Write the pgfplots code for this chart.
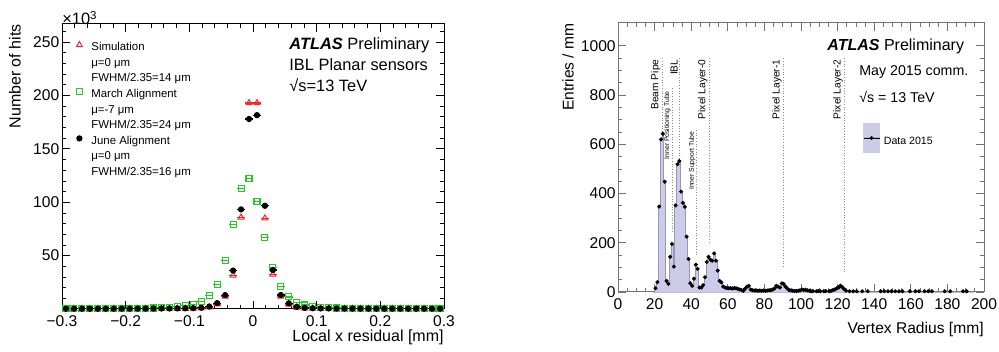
\documentclass[border=0pt]{standalone}
\usepackage{fontspec}
\setmainfont{Liberation Sans}
\usepackage{pgfplots}
\pgfplotsset{compat=1.18}
\usepackage{pgfplotstable}
\definecolor{simred}{RGB}{250,40,40}
\definecolor{margreen}{RGB}{40,200,40}
\definecolor{lav}{RGB}{204,204,232}
\definecolor{lavline}{RGB}{150,150,185}

\pgfplotstableread{
x june sim march
-0.29375 0.3 0.2 0.3
-0.28125 0.3 0.2 0.3
-0.26875 0.3 0.2 0.35
-0.25625 0.3 0.2 0.35
-0.24375 0.3 0.2 0.4
-0.23125 0.3 0.2 0.4
-0.21875 0.3 0.2 0.45
-0.20625 0.35 0.2 0.5
-0.19375 0.35 0.2 0.55
-0.18125 0.35 0.25 0.6
-0.16875 0.4 0.25 0.7
-0.15625 0.4 0.25 0.9
-0.14375 0.45 0.3 1.1
-0.13125 0.5 0.3 1.4
-0.11875 0.55 0.35 2.0
-0.10625 0.65 0.4 3.0
-0.09375 0.8 0.5 4.3
-0.08125 1.2 0.8 7.0
-0.06875 2.3 1.6 12.3
-0.05625 5.5 4.5 23.1
-0.04375 13.0 11.8 45.2
-0.03125 36.0 31.5 79.3
-0.01875 93.3 85.8 113
-0.00625 178 193 122.4
0.00625 181.6 193 100.5
0.01875 96.7 85 66.8
0.03125 36.5 32.3 38.7
0.04375 13.1 11.8 20.9
0.05625 5.3 4.4 11.3
0.06875 2.0 1.5 6.3
0.08125 1.0 0.7 3.7
0.09375 0.7 0.5 2.2
0.10625 0.55 0.4 1.5
0.11875 0.5 0.35 1.1
0.13125 0.45 0.3 0.9
0.14375 0.4 0.3 0.75
0.15625 0.4 0.25 0.65
0.16875 0.35 0.25 0.6
0.18125 0.35 0.2 0.55
0.19375 0.3 0.2 0.5
0.20625 0.3 0.2 0.45
0.21875 0.3 0.2 0.4
0.23125 0.3 0.2 0.4
0.24375 0.3 0.2 0.35
0.25625 0.3 0.2 0.35
0.26875 0.3 0.2 0.3
0.28125 0.3 0.2 0.3
0.29375 0.3 0.2 0.3
}\resid

\pgfplotstableread{
c v
19.5 0
20.5 15
21.5 40
22.5 347
23.5 620
24.5 643
25.5 448
26.5 45
27.5 33
28.5 143
29.5 195
30.5 103
31.5 352
32.5 519
33.5 532
34.5 408
35.5 362
36.5 346
37.5 225
38.5 134
39.5 36
40.5 25
41.5 54
42.5 111
43.5 94
44.5 18
45.5 18
46.5 28
47.5 60
48.5 122
49.5 143
50.5 131
51.5 127
52.5 157
53.5 127
54.5 87
55.5 45
56.5 39
57.5 22
58.5 18
59.5 16
60.5 15
61.5 16
62.5 14
63.5 16
64.5 15
65.5 13
66.5 10
67.5 8
68.5 5
69.5 14
70.5 22
71.5 25
72.5 10
73.5 7
74.5 6
75.5 6
76.5 5
77.5 6
78.5 5
79.5 6
80.5 5
81.5 6
82.5 7
83.5 8
84.5 10
85.5 14
86.5 25
87.5 22
88.5 18
89.5 35
90.5 33
91.5 22
92.5 14
93.5 8
94.5 6
95.5 5
96.5 4
97.5 4
98.5 5
99.5 7
100.5 10
101.5 8
102.5 9
103.5 7
104.5 5
105.5 3
106.5 4
107.5 0
108.5 3
109.5 4
110.5 3
111.5 0
112.5 3
113.5 4
114.5 0
115.5 3
116.5 5
117.5 8
118.5 10
119.5 15
120.5 18
121.5 26
122.5 20
123.5 12
124.5 6
125.5 0
126.5 3
127.5 0
128.5 3
129.5 0
130.5 3
131.5 0
132.5 0
133.5 3
134.5 0
135.5 0
136.5 3
137.5 0
138.5 0
139.5 0
140.5 0
141.5 0
142.5 0
143.5 3
144.5 0
145.5 3
146.5 0
147.5 3
148.5 0
149.5 3
150.5 0
151.5 3
152.5 0
153.5 3
154.5 0
155.5 3
156.5 0
157.5 0
158.5 0
159.5 3
160.5 0
161.5 0
162.5 3
163.5 0
164.5 3
165.5 0
166.5 0
167.5 3
168.5 0
169.5 3
170.5 0
171.5 3
172.5 0
173.5 0
174.5 0
175.5 0
176.5 0
177.5 0
178.5 3
179.5 0
180.5 0
181.5 3
182.5 0
183.5 0
184.5 0
185.5 0
186.5 0
187.5 0
188.5 3
189.5 0
190.5 3
191.5 0
192.5 0
193.5 0
194.5 0
}\vtx

\begin{document}
\begin{tikzpicture}
\path[use as bounding box] (0,0) rectangle (499.5pt,176pt);
% ---------------- left panel ----------------
\begin{axis}[
  at={(31pt,21.5pt)}, anchor=south west, scale only axis,
  width=191pt, height=142.5pt,
  xmin=-0.3, xmax=0.3, ymin=0, ymax=267,
  xtick={-0.3,-0.2,-0.1,0,0.1,0.2,0.3},
  xticklabels={−0.3,−0.2,−0.1,0,0.1,0.2,0.3},
  minor x tick num=4,
  ytick={50,100,150,200,250},
  yticklabels={50,100,150,200,250},
  minor ytick={10,20,...,260},
  tick align=inside, major tick length=4pt, minor tick length=2pt,
  every tick/.append style={black, line width=0.4pt},
  axis line style={black, line width=0.5pt},
  ticklabel style={font=\fontsize{7.8}{9}\selectfont},
  yticklabel style={inner xsep=1.2pt},
  xlabel={Local x residual [mm]}, ylabel={Number of hits},
  label style={font=\fontsize{8}{9.6}\selectfont},
  xlabel style={at={(axis description cs:1,-0.098)}, anchor=east, inner sep=0pt},
  ylabel style={at={(axis description cs:-0.123,1)}, anchor=east, inner sep=0pt},
  clip=false,
  legend style={at={(axis description cs:0.0288,0.94)}, anchor=north west,
    draw=none, fill=none, inner sep=0pt, row sep=2.2pt, column sep=4.5pt,
    font=\fontsize{5.7}{6.8}\selectfont,
    nodes={inner sep=0pt, text height=4.2pt, text depth=1.3pt}},
  legend cell align=left,
  legend image code/.code={\draw[mark repeat=2,mark phase=2,#1] plot coordinates {(0pt,1.6pt) (3pt,1.6pt) (6pt,1.6pt)};},
  error bars/error bar style={line width=0.6pt},
]
\addplot[only marks, mark=triangle, mark size=1.7pt, simred, mark options={line width=0.5pt},
  error bars/.cd, x dir=both, x fixed=0.00625, error mark=none]
  table[x=x, y=sim] {\resid};
\addlegendentry{Simulation}
\addlegendimage{empty legend}\addlegendentry{μ=0 μm}
\addlegendimage{empty legend}\addlegendentry{FWHM/2.35=14 μm}
\addplot[only marks, mark=square, mark size=1.5pt, margreen, mark options={line width=0.55pt},
  error bars/.cd, x dir=both, x fixed=0.00625, error mark=none]
  table[x=x, y=march] {\resid};
\addlegendentry{March Alignment}
\addlegendimage{empty legend}\addlegendentry{μ=-7 μm}
\addlegendimage{empty legend}\addlegendentry{FWHM/2.35=24 μm}
\addplot[only marks, mark=*, mark size=1.35pt, black,
  error bars/.cd, x dir=both, x fixed=0.00625, error mark=none]
  table[x=x, y=june] {\resid};
\addlegendentry{June Alignment}
\addlegendimage{empty legend}\addlegendentry{μ=0 μm}
\addlegendimage{empty legend}\addlegendentry{FWHM/2.35=16 μm}
\end{axis}
\node[anchor=west, inner sep=0pt, font=\fontsize{8.2}{9.6}\selectfont] at (31pt,167pt) {×10\textsuperscript{3}};
\node[anchor=west, inner sep=0pt, font=\fontsize{8.2}{9.6}\selectfont] at (144.5pt,153.5pt) {\textbf{\textit{ATLAS}} Preliminary};
\node[anchor=west, inner sep=0pt, font=\fontsize{8.2}{9.6}\selectfont] at (144.5pt,143.5pt) {IBL Planar sensors};
\node[anchor=west, inner sep=0pt, font=\fontsize{8.2}{9.6}\selectfont] at (144.5pt,133.5pt) {√s=13 TeV};
% ---------------- right panel ----------------
\begin{axis}[
  at={(309pt,30pt)}, anchor=south west, scale only axis,
  width=183pt, height=134.5pt,
  xmin=0, xmax=200, ymin=0, ymax=1093,
  xtick={0,20,40,60,80,100,120,140,160,180,200},
  xticklabels={0,20,40,60,80,100,120,140,160,180,200},
  minor x tick num=3,
  ytick={0,200,400,600,800,1000},
  yticklabels={0,200,400,600,800,1000},
  minor y tick num=3,
  tick align=inside, major tick length=4pt, minor tick length=2pt,
  every tick/.append style={black!55, line width=0.4pt},
  axis line style={black!55, line width=0.5pt},
  ticklabel style={font=\fontsize{7.8}{9}\selectfont},
  yticklabel style={inner xsep=1pt},
  xlabel={Vertex Radius [mm]}, ylabel={Entries / mm},
  label style={font=\fontsize{7.8}{9.4}\selectfont},
  xlabel style={at={(axis description cs:1,-0.141)}, anchor=east, inner sep=0pt},
  ylabel style={at={(axis description cs:-0.1366,1)}, anchor=east, inner sep=0pt},
  clip=false,
  legend style={at={(axis description cs:0.669,0.5725)}, anchor=west,
    draw=none, fill=none, inner sep=0pt, column sep=2pt,
    font=\fontsize{5.3}{6.4}\selectfont, nodes={inner sep=0pt}},
]
% layer lines
\draw[black!45, densely dotted, line width=0.35pt] (axis cs:24,950) -- (axis cs:24,0);
\draw[black!45, densely dotted, line width=0.35pt] (axis cs:29.5,829) -- (axis cs:29.5,240);
\draw[black!45, densely dotted, line width=0.35pt] (axis cs:33.3,950) -- (axis cs:33.3,0);
\draw[black!45, densely dotted, line width=0.35pt] (axis cs:43,658) -- (axis cs:43,150);
\draw[black!45, densely dotted, line width=0.35pt] (axis cs:49.7,950) -- (axis cs:49.7,200);
\draw[black!45, densely dotted, line width=0.35pt] (axis cs:90.2,950) -- (axis cs:90.2,98);
\draw[black!45, densely dotted, line width=0.35pt] (axis cs:123.5,950) -- (axis cs:123.5,73);
\addplot[const plot mark mid, fill=lav, draw=lavline, line width=0.3pt,
  legend image code/.code={\fill[lav] (0pt,-5.25pt) rectangle (8pt,9.25pt);
    \draw[black, line width=0.3pt] (0pt,2pt) -- (8pt,2pt);
    \fill[black] (4pt,2pt) circle (0.8pt);}]
  table[x=c, y=v] {\vtx} \closedcycle;
\addlegendentry{Data 2015}
\addplot[only marks, mark=*, mark size=0.8pt, black, forget plot,
  restrict y to domain=1:2000,
  error bars/.cd, x dir=both, x fixed=0.5, error mark=none]
  table[x=c, y=v] {\vtx};
\node[rotate=90, anchor=south east, inner sep=0.5pt, font=\fontsize{5.1}{6}\selectfont] at (axis cs:24,950) {Beam Pipe};
\node[rotate=90, anchor=south east, inner sep=0.5pt, font=\fontsize{3.4}{4}\selectfont] at (axis cs:29.5,821) {Inner Positioning Tube};
\node[rotate=90, anchor=south east, inner sep=0.5pt, font=\fontsize{5.1}{6}\selectfont] at (axis cs:33.3,950) {IBL};
\node[rotate=90, anchor=south east, inner sep=0.5pt, font=\fontsize{3.4}{4}\selectfont] at (axis cs:43,658) {Inner Support Tube};
\node[rotate=90, anchor=south east, inner sep=0.5pt, font=\fontsize{5.1}{6}\selectfont] at (axis cs:49.7,950) {Pixel Layer-0};
\node[rotate=90, anchor=south east, inner sep=0.5pt, font=\fontsize{5.1}{6}\selectfont] at (axis cs:90.2,950) {Pixel Layer-1};
\node[rotate=90, anchor=south east, inner sep=0.5pt, font=\fontsize{5.1}{6}\selectfont] at (axis cs:123.5,950) {Pixel Layer-2};
\end{axis}
\node[anchor=west, inner sep=0pt, font=\fontsize{8}{9.6}\selectfont] at (413.5pt,153pt) {\textbf{\textit{ATLAS}} Preliminary};
\node[anchor=west, inner sep=0pt, font=\fontsize{7.1}{8.5}\selectfont] at (429.5pt,140pt) {May 2015 comm.};
\node[anchor=west, inner sep=0pt, font=\fontsize{7.1}{8.5}\selectfont] at (429.5pt,127.5pt) {√s = 13 TeV};
\end{tikzpicture}
\end{document}
